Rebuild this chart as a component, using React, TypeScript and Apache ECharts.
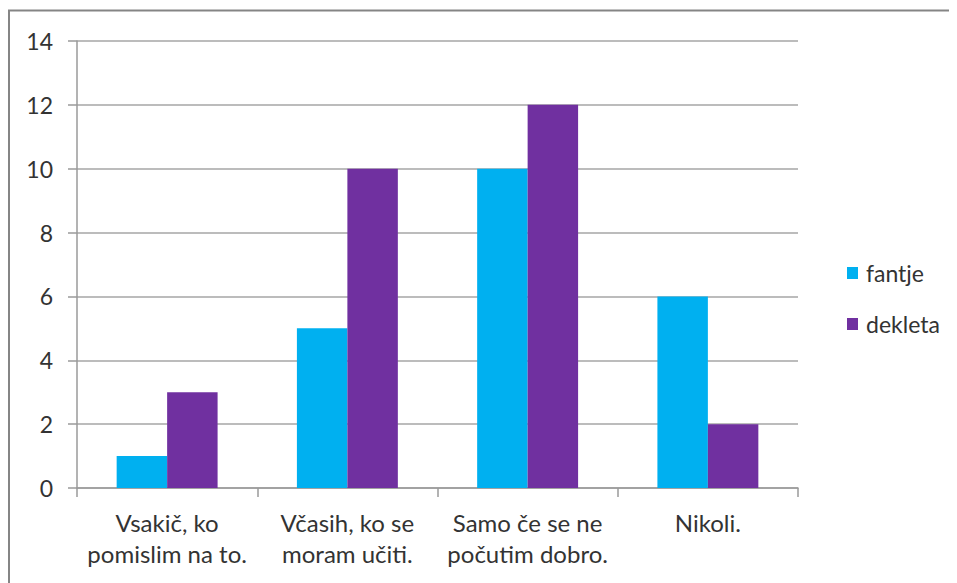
import React, { useEffect, useRef } from "react";
import * as echarts from "echarts";

const categories = ["Vsakič, ko\npomislim na to.", "Včasih, ko se\nmoram učiti.", "Samo če se ne\npočutim dobro.", "Nikoli."];
const fantje = [1, 5, 10, 6];
const dekleta = [3, 10, 12, 2];
const seriesNames = ["fantje", "dekleta"];

export default function App() {
  const ref = useRef<HTMLDivElement>(null);
  useEffect(() => {
    if (!ref.current) return;
    const chart = echarts.init(ref.current, undefined, { renderer: "svg" });
    const font = "Lato, 'Liberation Sans', sans-serif";
    const textColor = "#333333";
    chart.setOption({
      animation: false,
      backgroundColor: "#ffffff",
      graphic: [
        {
          type: "line",
          shape: { x1: 0, y1: 2.5, x2: 949, y2: 2.5 },
          style: { stroke: "#858585", lineWidth: 2 },
          silent: true,
        },
        {
          type: "line",
          shape: { x1: 1, y1: 2, x2: 1, y2: 575 },
          style: { stroke: "#858585", lineWidth: 2 },
          silent: true,
        },
        {
          type: "line",
          shape: { x1: 947.5, y1: 2, x2: 947.5, y2: 575 },
          style: { stroke: "#e6e6e6", lineWidth: 1 },
          silent: true,
        },
      ],
      grid: { left: 69, right: 159, top: 33, bottom: 95 },
      legend: {
        orient: "vertical",
        left: 834,
        top: 248,
        itemWidth: 11,
        itemHeight: 12,
        itemGap: 27,
        icon: "rect",
        textStyle: { fontSize: 23, color: textColor, fontFamily: font, lineHeight: 24, padding: [0, 0, 0, 3] },
        data: seriesNames,
      },
      xAxis: {
        type: "category",
        data: categories,
        axisLine: { lineStyle: { color: "#9a9a9a", width: 1.5 } },
        axisTick: { show: true, length: 9, lineStyle: { color: "#9a9a9a", width: 1.5 } },
        axisLabel: {
          fontSize: 24,
          color: textColor,
          fontFamily: font,
          lineHeight: 31,
          margin: 19,
          interval: 0,
        },
      },
      yAxis: {
        type: "value",
        min: 0,
        max: 14,
        interval: 2,
        axisLine: { show: true, lineStyle: { color: "#9a9a9a", width: 1.5 } },
        axisTick: { show: true, length: 9, lineStyle: { color: "#9a9a9a", width: 1.5 } },
        splitLine: { lineStyle: { color: "#a6a6a6", width: 1.5 } },
        axisLabel: { fontSize: 23, color: textColor, fontFamily: font, margin: 24 },
      },
      series: [
        {
          name: seriesNames[0],
          type: "bar",
          data: fantje,
          itemStyle: { color: "#00B0F0" },
          barGap: "0%",
          barCategoryGap: "44%",
        },
        {
          name: seriesNames[1],
          type: "bar",
          data: dekleta,
          itemStyle: { color: "#7030A0" },
          barGap: "0%",
          barCategoryGap: "44%",
        },
      ],
    });
    return () => chart.dispose();
  }, []);
  return <div ref={ref} style={{ width: 949, height: 575 }} />;
}
